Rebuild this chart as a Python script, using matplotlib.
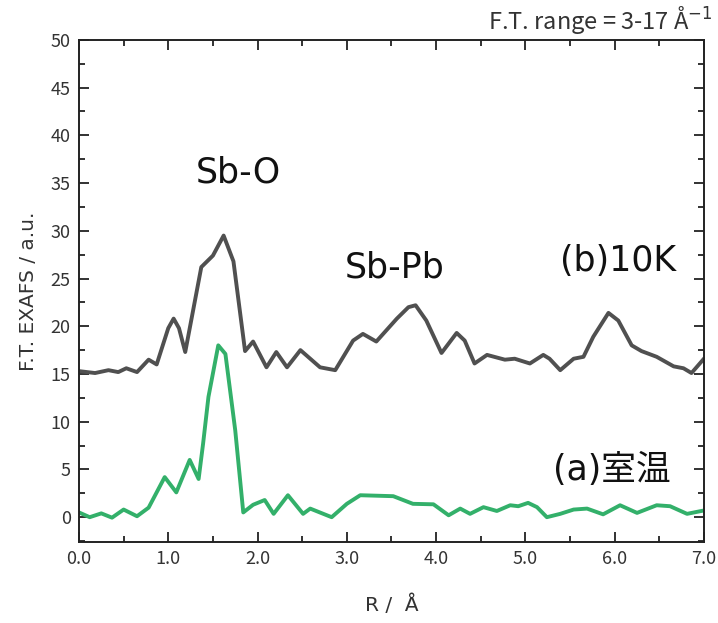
import matplotlib
matplotlib.use("Agg")
import matplotlib.pyplot as plt
from matplotlib.ticker import MultipleLocator, FormatStrFormatter

plt.rcParams['font.family'] = ['Noto Sans CJK JP', 'DejaVu Sans']

# (b) 10K
R_b = [0.00, 0.18, 0.33, 0.44, 0.53, 0.65, 0.78, 0.87, 1.00, 1.06, 1.12, 1.19, 1.37, 1.50,
       1.62, 1.73, 1.86, 1.95, 2.10, 2.21, 2.33, 2.48, 2.70, 2.87, 3.07, 3.18, 3.33, 3.56,
       3.69, 3.77, 3.89, 4.06, 4.23, 4.32, 4.43, 4.57, 4.77, 4.88, 5.05, 5.20, 5.27, 5.39,
       5.54, 5.65, 5.76, 5.93, 6.04, 6.19, 6.30, 6.47, 6.66, 6.77, 6.86, 6.99]
F_b = [15.3, 15.1, 15.4, 15.2, 15.6, 15.2, 16.5, 16.0, 19.8, 20.8, 19.8, 17.3, 26.2, 27.4,
       29.5, 26.8, 17.4, 18.4, 15.7, 17.3, 15.7, 17.5, 15.7, 15.4, 18.5, 19.2, 18.4, 20.8,
       22.0, 22.2, 20.6, 17.2, 19.3, 18.5, 16.1, 17.0, 16.5, 16.6, 16.1, 17.0, 16.6, 15.4,
       16.6, 16.8, 18.9, 21.4, 20.6, 18.0, 17.4, 16.8, 15.8, 15.6, 15.1, 16.5]

# (a) room temperature
R_a = [0.00, 0.12, 0.25, 0.37, 0.50, 0.65, 0.78, 0.96, 1.09, 1.24, 1.34, 1.39, 1.45, 1.56,
       1.64, 1.75, 1.84, 1.95, 2.08, 2.18, 2.34, 2.51, 2.59, 2.83, 3.00, 3.15, 3.52, 3.74,
       3.97, 4.14, 4.27, 4.38, 4.53, 4.68, 4.83, 4.92, 5.03, 5.13, 5.24, 5.39, 5.54, 5.69,
       5.87, 6.06, 6.25, 6.47, 6.62, 6.81, 6.97]
F_a = [0.5, 0.0, 0.4, -0.05, 0.8, 0.1, 1.0, 4.2, 2.6, 6.0, 4.0, 7.7, 12.6, 18.0,
       17.1, 9.1, 0.5, 1.3, 1.8, 0.35, 2.3, 0.35, 0.9, 0.0, 1.4, 2.3, 2.2, 1.4,
       1.35, 0.2, 0.9, 0.35, 1.05, 0.65, 1.25, 1.15, 1.5, 1.05, 0.0, 0.35, 0.8, 0.9,
       0.3, 1.25, 0.45, 1.25, 1.15, 0.35, 0.65]

fig = plt.figure(figsize=(7.18, 6.23), dpi=100)
ax = fig.add_axes([0.110, 0.130, 0.8705, 0.806])

ax.plot(R_b, F_b, color='#505050', lw=2.8, solid_joinstyle='round')
ax.plot(R_a, F_a, color='#33b06a', lw=2.8, solid_joinstyle='round')

ax.set_xlim(0, 7.0)
ax.set_ylim(-2.6, 50)
ax.xaxis.set_major_locator(MultipleLocator(1.0))
ax.xaxis.set_minor_locator(MultipleLocator(0.5))
ax.yaxis.set_major_locator(MultipleLocator(5))
ax.yaxis.set_minor_locator(MultipleLocator(2.5))
ax.xaxis.set_major_formatter(FormatStrFormatter('%.1f'))
ax.set_yticks(range(0, 51, 5))
ax.tick_params(which='both', direction='in', top=True, right=True, colors='#222222',
               labelcolor='#333333', labelsize=13, width=1.3)
ax.tick_params(which='major', length=7, pad=6)
ax.tick_params(which='minor', length=4)
for s in ax.spines.values():
    s.set_linewidth(1.4)
    s.set_color('#222222')

lab = dict(color='#333333', family=['DejaVu Sans', 'Noto Sans CJK JP'])
ax.set_xlabel('R /  Å', fontsize=14.5, labelpad=19, **lab)
ax.set_ylabel('F.T. EXAFS / a.u.', fontsize=14.5, labelpad=9, **lab)

ann = dict(fontsize=25, ha='center', va='center', color='#111111',
           family=['DejaVu Sans', 'Noto Sans CJK JP'])
ax.text(1.79, 36.1, 'Sb-O', **ann)
ax.text(3.54, 26.2, 'Sb-Pb', **ann)
ax.text(6.04, 26.8, '(b)10K', **ann)
ax.text(5.97, 4.9, '(a)室温', **ann)

fig.text(0.992, 0.968, 'F.T. range = 3-17 Å$^{-1}$', fontsize=17, ha='right', va='center',
         color='#333333')

fig.savefig('out.png', dpi=100)
